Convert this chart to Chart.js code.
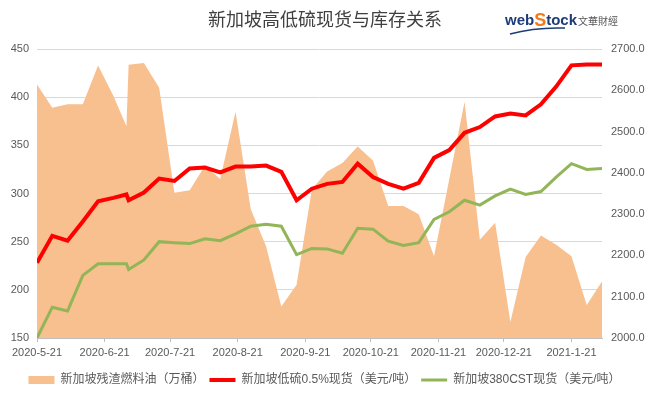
<!DOCTYPE html>
<html>
<head>
<meta charset="utf-8">
<script src="https://cdn.jsdelivr.net/npm/chart.js@4/dist/chart.umd.min.js"></script>
<style>
  html, body { margin: 0; padding: 0; background: #fff; }
  #wrap { width: 649px; height: 399px; }
</style>
</head>
<body>
<div id="wrap"><canvas id="myChart" width="649" height="399"></canvas></div>
<script>
// weekly dates (one extra point on 2020-07-01)
const dates = [
  "2020-05-21", "2020-05-28", "2020-06-04", "2020-06-11", "2020-06-18", "2020-06-25",
  "2020-07-01", "2020-07-02", "2020-07-09", "2020-07-16", "2020-07-23", "2020-07-30",
  "2020-08-06", "2020-08-13", "2020-08-20", "2020-08-27", "2020-09-03", "2020-09-10",
  "2020-09-17", "2020-09-24", "2020-10-01", "2020-10-08", "2020-10-15", "2020-10-22",
  "2020-10-29", "2020-11-05", "2020-11-12", "2020-11-19", "2020-11-26", "2020-12-03",
  "2020-12-10", "2020-12-17", "2020-12-24", "2020-12-31", "2021-01-07", "2021-01-14",
  "2021-01-21", "2021-01-28", "2021-02-04"
];

// 新加坡残渣燃料油（万桶） - right axis
const inventory = [
  2614, 2558, 2566, 2566, 2660, 2587, 2513, 2662, 2666, 2606, 2352, 2358,
  2417, 2385, 2548, 2312, 2222, 2076, 2129, 2360, 2403, 2424, 2464, 2430,
  2320, 2320, 2300, 2198, 2385, 2572, 2238, 2279, 2039, 2196, 2248, 2226,
  2198, 2080, 2137
];

// 新加坡低硫0.5%现货（美元/吨）
const lowSulphur = [
  228, 256, 251, 271, 292, 295.5, 299, 293, 301, 315.5, 313, 326,
  327, 322, 328, 328, 329, 322.5, 293, 305, 310, 312, 331, 317,
  310, 305, 311, 337, 345, 363, 369, 380, 383, 381, 392.5, 411,
  433, 434, 434
];

// 新加坡380CST现货（美元/吨）
const cst380 = [
  150, 182, 178, 215, 227, 227, 227, 221, 231, 250, 249, 248,
  253, 251, 258, 266, 268, 266, 236.5, 243, 242.5, 238, 264, 263,
  250.5, 246, 249, 273, 281, 293, 288, 297.5, 304.5, 299, 302, 317,
  331, 325, 326
];

const tickDates = [
  "2020-05-21", "2020-06-21", "2020-07-21", "2020-08-21", "2020-09-21",
  "2020-10-21", "2020-11-21", "2020-12-21", "2021-01-21"
];
const tickLabels = [
  "2020-5-21", "2020-6-21", "2020-7-21", "2020-8-21", "2020-9-21",
  "2020-10-21", "2020-11-21", "2020-12-21", "2021-1-21"
];

const seriesNames = ["新加坡残渣燃料油（万桶）", "新加坡低硫0.5%现货（美元/吨）", "新加坡380CST现货（美元/吨）"];

// days since first date, used as the x value
const dayOf = (s) => {
  let [y, m, d] = s.split("-").map(Number);
  return (Date.UTC(y, m - 1, d) - Date.UTC(2020, 4, 21)) / 86400000;
};
const xs = dates.map(dayOf);
const tickDays = tickDates.map(dayOf);
const toPoints = (vals) => vals.map((v, i) => ({ x: xs[i], y: v }));

const FONT = "'Liberation Sans', 'Noto Sans CJK SC', sans-serif";
const GREY = "#595959";

// title + webstock logo drawn on top of the canvas
const headerPlugin = {
  id: "header",
  afterDraw(chart) {
    let c = chart.ctx;
    c.save();
    c.fillStyle = "#404040";
    c.font = "18px 'Noto Sans CJK SC', sans-serif";
    c.textAlign = "center";
    c.textBaseline = "middle";
    c.fillText("新加坡高低硫现货与库存关系", 325, 19);

    c.textAlign = "left";
    c.textBaseline = "alphabetic";
    c.font = "bold 15px 'Liberation Sans', sans-serif";
    c.fillStyle = "#1d3c78";
    c.fillText("web", 505, 25);
    let w = c.measureText("web").width;
    c.fillStyle = "#f07d1a";
    c.font = "bold 18px 'Liberation Sans', sans-serif";
    c.fillText("S", 505 + w, 26);
    let w2 = c.measureText("S").width;
    c.fillStyle = "#1d3c78";
    c.font = "bold 15px 'Liberation Sans', sans-serif";
    c.fillText("tock", 505 + w + w2, 25);
    c.fillStyle = "#555";
    c.font = "10px 'Noto Sans CJK SC', sans-serif";
    c.fillText("文華財經", 578, 25);
    // swoosh
    c.strokeStyle = "#1d3c78";
    c.lineWidth = 1.5;
    c.beginPath();
    c.moveTo(510, 34);
    c.quadraticCurveTo(535, 27, 565, 28);
    c.stroke();
    c.restore();
  }
};

const ctx = document.getElementById("myChart");

new Chart(ctx, {
  type: "line",
  data: {
    datasets: [
      {
        label: seriesNames[0],
        data: toPoints(inventory),
        yAxisID: "y1",
        backgroundColor: "rgb(248, 191, 143)",
        borderColor: "rgb(248, 191, 143)",
        borderWidth: 0,
        fill: "start",
        pointRadius: 0,
        tension: 0,
        order: 3
      },
      {
        label: seriesNames[1],
        data: toPoints(lowSulphur),
        yAxisID: "y",
        borderColor: "#ff0000",
        backgroundColor: "#ff0000",
        borderWidth: 4,
        fill: false,
        pointRadius: 0,
        tension: 0,
        order: 1
      },
      {
        label: seriesNames[2],
        data: toPoints(cst380),
        yAxisID: "y",
        borderColor: "#92b558",
        backgroundColor: "#92b558",
        borderWidth: 3,
        fill: false,
        pointRadius: 0,
        tension: 0,
        order: 2
      }
    ]
  },
  options: {
    responsive: false,
    animation: false,
    layout: { padding: { top: 49, left: 0, right: 0, bottom: 3 } },
    plugins: {
      tooltip: { enabled: false },
      title: { display: false },
      legend: {
        position: "bottom",
        labels: {
          color: GREY,
          font: { family: FONT, size: 12 },
          usePointStyle: true,
          pointStyleWidth: 26,
          boxHeight: 8,
          padding: 5,
          generateLabels: (chart) =>
            chart.data.datasets.map((d, i) => ({
              text: d.label,
              fillStyle: d.backgroundColor,
              strokeStyle: d.borderColor,
              lineWidth: d.borderWidth,
              pointStyle: d.fill ? "rect" : "line",
              fontColor: GREY,
              hidden: false,
              datasetIndex: i
            }))
        }
      }
    },
    scales: {
      x: {
        type: "linear",
        min: 0,
        max: xs[xs.length - 1],
        afterBuildTicks: (scale) => {
          scale.ticks = tickDays.map((v) => ({ value: v }));
        },
        afterFit: (scale) => { scale.height = 31; },
        ticks: {
          autoSkip: false,
          maxRotation: 0,
          color: GREY,
          font: { family: FONT, size: 11 },
          padding: 4,
          callback: (v, i) => tickLabels[i]
        },
        grid: { drawOnChartArea: false, drawTicks: true, tickLength: 4, color: "#bfbfbf" },
        border: { display: true, color: "#bfbfbf" }
      },
      y: {
        position: "left",
        min: 150,
        max: 450,
        afterFit: (scale) => { scale.width = 37; },
        ticks: {
          stepSize: 50,
          color: GREY,
          font: { family: FONT, size: 11 },
          padding: 8
        },
        grid: { color: "#d9d9d9", drawTicks: false },
        border: { display: false }
      },
      y1: {
        position: "right",
        min: 2000,
        max: 2700,
        afterFit: (scale) => { scale.width = 47; },
        ticks: {
          stepSize: 100,
          color: GREY,
          font: { family: FONT, size: 11 },
          padding: 9,
          callback: (v) => Number(v).toFixed(1)
        },
        grid: { drawOnChartArea: false, drawTicks: false },
        border: { display: false }
      }
    }
  },
  plugins: [headerPlugin]
});
</script>
</body>
</html>
